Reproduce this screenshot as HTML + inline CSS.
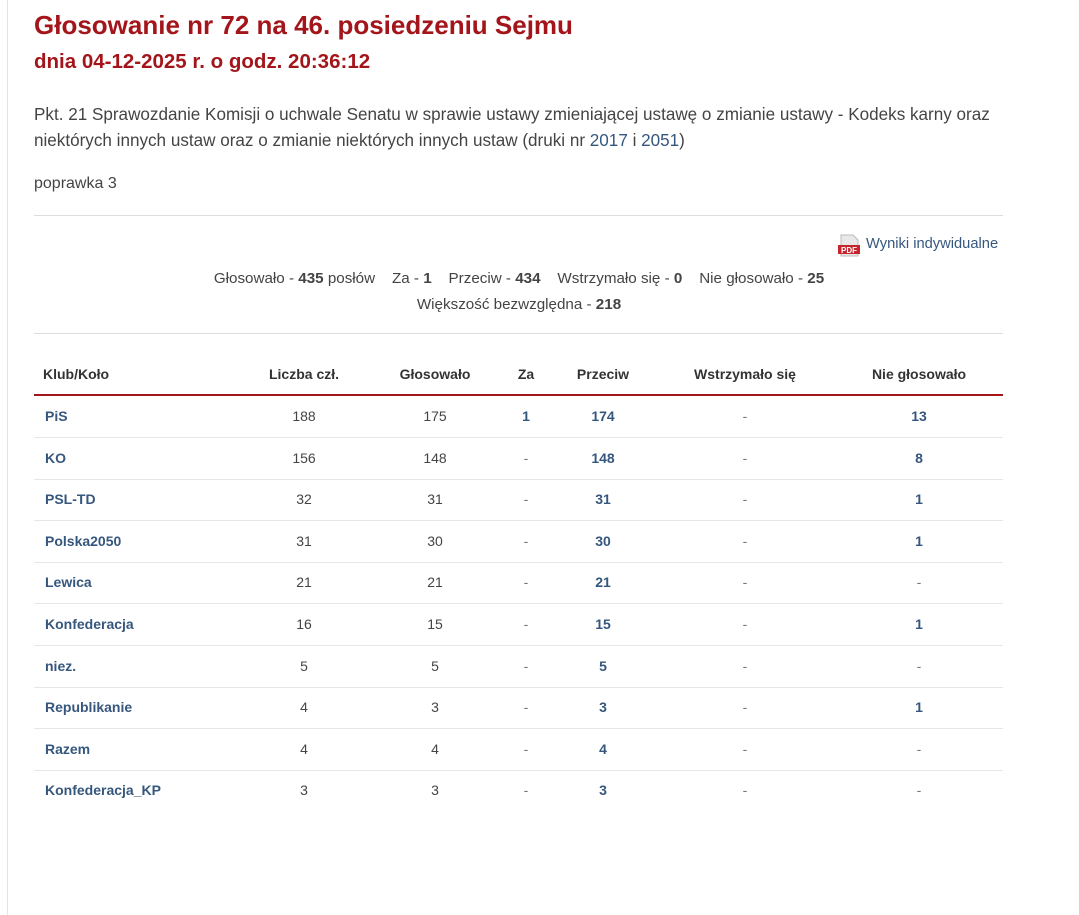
<!DOCTYPE html>
<html><head><meta charset="utf-8"><style>
body{margin:0;width:1079px;height:915px;background:#fff;font-family:"Liberation Sans",Arial,sans-serif;color:#333;position:relative;overflow:hidden}
.a{position:absolute;white-space:nowrap}
.l{position:absolute;left:7px;top:0;width:1px;height:915px;background:#e4e4e4}
h1{position:absolute;left:34px;top:10px;margin:0;font-size:26px;color:#a3151a;font-weight:bold}
h2{position:absolute;left:34px;top:50px;margin:0;font-size:20.5px;color:#a3151a;font-weight:bold}
.p{font-size:17.1px;color:#444}
a{color:#36577d;text-decoration:none}
.hr{position:absolute;left:34px;width:969px;height:1px;background:#ddd}
.s{font-size:15.2px;color:#444;transform:translateX(-50%)}
.h{font-size:14px;font-weight:bold;color:#333;transform:translateX(-50%)}
.c{font-size:14px;color:#444;transform:translateX(-50%)}
.b{font-size:14px;font-weight:bold;color:#36577d;transform:translateX(-50%)}
.g{font-size:14px;color:#777;transform:translateX(-50%)}
.n{font-size:14px;font-weight:bold;color:#36577d;left:45px}
</style></head><body>
<div class="l"></div>
<h1>Głosowanie nr 72 na 46. posiedzeniu Sejmu</h1>
<h2>dnia 04-12-2025 r. o godz. 20:36:12</h2>
<div class="a p" style="left:34px;top:105px">Pkt. 21 Sprawozdanie Komisji o uchwale Senatu w sprawie ustawy zmieniającej ustawę o zmianie ustawy - Kodeks karny oraz</div>
<div class="a p" style="left:34px;top:131px">niektórych innych ustaw oraz o zmianie niektórych innych ustaw (druki nr <a>2017</a> i <a>2051</a>)</div>
<div class="a p" style="left:34px;top:175px;font-size:16px">poprawka 3</div>
<div class="hr" style="top:215px"></div>
<svg class="a" style="left:838px;top:234px" width="22" height="23"><path d="M3 1h12l5 5v16H3z" fill="#e8e8e8" stroke="#bbb"/><rect x="0" y="11" width="22" height="9" fill="#c8242b"/><text x="11" y="19" font-size="8" font-weight="bold" fill="#fff" text-anchor="middle" font-family="Liberation Sans">PDF</text></svg>
<div class="a" style="left:866px;top:236px;font-size:14.7px;color:#36577d">Wyniki indywidualne</div>
<div class="a s" style="left:519px;top:270px">Głosowało - <b>435</b> posłów &nbsp;&nbsp; Za - <b>1</b> &nbsp;&nbsp; Przeciw - <b>434</b> &nbsp;&nbsp; Wstrzymało się - <b>0</b> &nbsp;&nbsp; Nie głosowało - <b>25</b></div>
<div class="a s" style="left:519px;top:296px">Większość bezwzględna - <b>218</b></div>
<div class="hr" style="top:333px"></div>
<div class="a" style="left:43px;top:366px;font-size:14px;font-weight:bold">Klub/Koło</div>
<div class="a h" style="left:304px;top:366px">Liczba czł.</div>
<div class="a h" style="left:435px;top:366px">Głosowało</div>
<div class="a h" style="left:526px;top:366px">Za</div>
<div class="a h" style="left:603px;top:366px">Przeciw</div>
<div class="a h" style="left:745px;top:366px">Wstrzymało się</div>
<div class="a h" style="left:919px;top:366px">Nie głosowało</div>
<div class="hr" style="top:394px;height:2px;background:#a3151a"></div>
<div id="rows"></div>
<script>
var d=[["PiS",188,175,"1","174","13"],["KO",156,148,"-","148","8"],["PSL-TD",32,31,"-","31","1"],["Polska2050",31,30,"-","30","1"],["Lewica",21,21,"-","21","-"],["Konfederacja",16,15,"-","15","1"],["niez.",5,5,"-","5","-"],["Republikanie",4,3,"-","3","1"],["Razem",4,4,"-","4","-"],["Konfederacja_KP",3,3,"-","3","-"]];
var h="";
function cl(v){return v=="-"?"g":"b";}
d.forEach(function(r,i){var y=408+i*41.6;
h+='<div class="a n" style="top:'+y+'px">'+r[0]+'</div>';
h+='<div class="a c" style="left:304px;top:'+y+'px">'+r[1]+'</div>';
h+='<div class="a c" style="left:435px;top:'+y+'px">'+r[2]+'</div>';
h+='<div class="a '+cl(r[3])+'" style="left:526px;top:'+y+'px">'+r[3]+'</div>';
h+='<div class="a b" style="left:603px;top:'+y+'px">'+r[4]+'</div>';
h+='<div class="a g" style="left:745px;top:'+y+'px">-</div>';
h+='<div class="a '+cl(r[5])+'" style="left:919px;top:'+y+'px">'+r[5]+'</div>';
if(i<9)h+='<div class="hr" style="top:'+(437+i*41.6)+'px;background:#e6e6e6"></div>';});
document.getElementById("rows").innerHTML=h;
</script>
</body></html>
